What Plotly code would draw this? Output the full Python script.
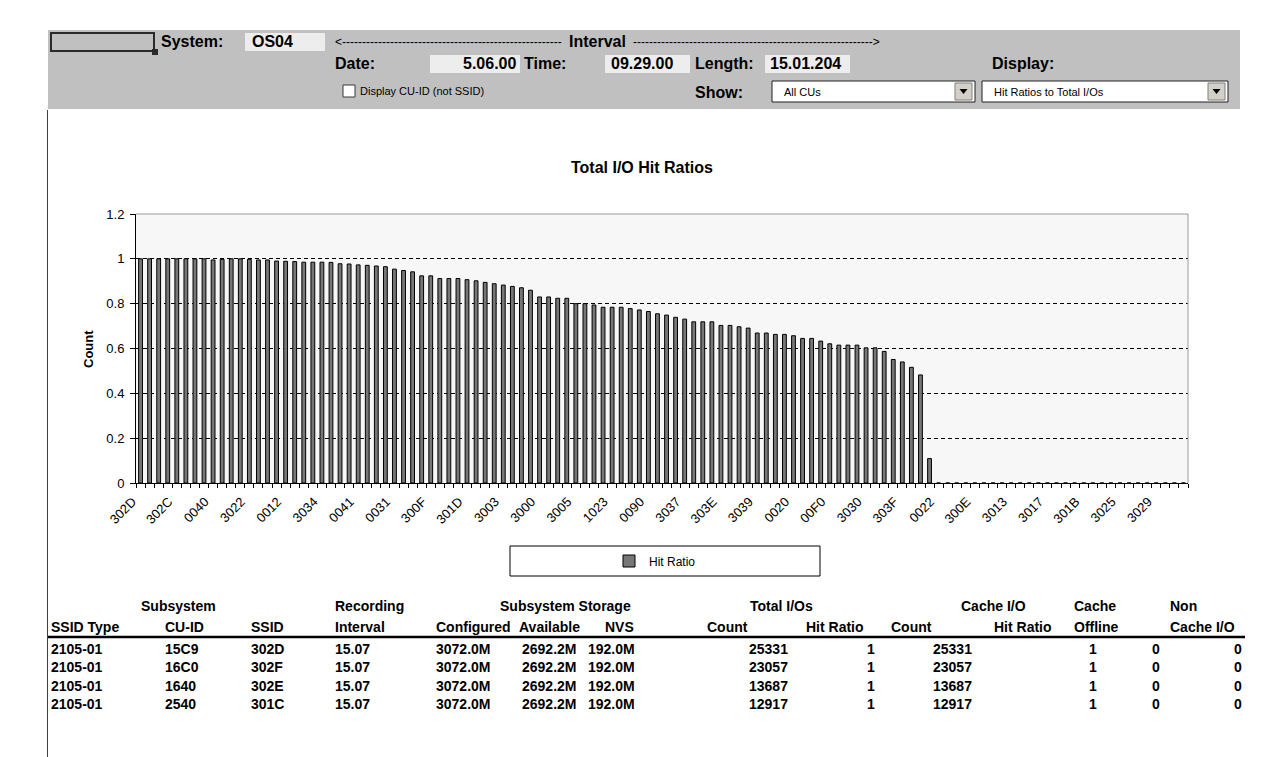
import plotly.graph_objects as go

# ---------------- data ----------------
tick_labels = ["302D", "302C", "0040", "3022", "0012", "3034", "0041", "0031", "300F",
               "301D", "3003", "3000", "3005", "1023", "0090", "3037", "303E", "3039",
               "0020", "00F0", "3030", "303F", "0022", "300E", "3013", "3017", "301B",
               "3025", "3029"]
label_every = 4

hit_ratio = [1.0, 1.0, 1.0, 1.0, 1.0, 1.0, 1.0, 1.0, 0.995, 0.998,
             1.0, 1.0, 0.998, 0.995, 0.995, 0.990, 0.989, 0.988, 0.985, 0.985,
             0.985, 0.984, 0.978, 0.977, 0.973, 0.971, 0.968, 0.965, 0.954, 0.948,
             0.942, 0.924, 0.924, 0.912, 0.912, 0.912, 0.907, 0.902, 0.895, 0.889,
             0.883, 0.877, 0.871, 0.860, 0.830, 0.830, 0.824, 0.824, 0.800, 0.800,
             0.794, 0.784, 0.784, 0.784, 0.778, 0.772, 0.765, 0.755, 0.749, 0.739,
             0.731, 0.719, 0.719, 0.719, 0.703, 0.703, 0.697, 0.691, 0.669, 0.669,
             0.663, 0.663, 0.657, 0.645, 0.645, 0.633, 0.621, 0.615, 0.615, 0.615,
             0.603, 0.603, 0.587, 0.551, 0.540, 0.516, 0.482, 0.109, 0.0, 0.0,
             0.0, 0.0, 0.0, 0.0, 0.0, 0.0, 0.0, 0.0, 0.0, 0.0,
             0.0, 0.0, 0.0, 0.0, 0.0, 0.0, 0.0, 0.0, 0.0, 0.0,
             0.0, 0.0, 0.0, 0.0, 0.0, 0.0]

y_ticks = [0, 0.2, 0.4, 0.6, 0.8, 1.0, 1.2]

# header values
system_name = "OS04"
date_value = "5.06.00"
time_value = "09.29.00"
length_value = "15.01.204"
show_value = "All CUs"
display_value = "Hit Ratios to Total I/Os"

# table values
ssid_type = ["2105-01", "2105-01", "2105-01", "2105-01"]
cu_id = ["15C9", "16C0", "1640", "2540"]
ssid = ["302D", "302F", "302E", "301C"]
rec_interval = ["15.07", "15.07", "15.07", "15.07"]
configured = ["3072.0M", "3072.0M", "3072.0M", "3072.0M"]
available = ["2692.2M", "2692.2M", "2692.2M", "2692.2M"]
nvs = ["192.0M", "192.0M", "192.0M", "192.0M"]
total_count = [25331, 23057, 13687, 12917]
total_hit = [1, 1, 1, 1]
cache_count = [25331, 23057, 13687, 12917]
cache_hit = [1, 1, 1, 1]
cache_offline = [0, 0, 0, 0]
non_cache = [0, 0, 0, 0]

# ---------------- geometry helpers ----------------
FW, FH = 1274, 757


def px(x):
    return x / FW


def py(y):
    return 1 - y / FH


SANS = "Liberation Sans, Arial, sans-serif"

fig = go.Figure()
x_idx = list(range(len(hit_ratio)))
fig.add_trace(go.Bar(
    x=x_idx, y=hit_ratio, name="Hit Ratio", width=0.42,
    marker=dict(color="#777777", line=dict(color="black", width=1)),
    hoverinfo="x+y", showlegend=True))

shapes = []
ann = []


def rect(x0, y0, x1, y1, fill, line=None, lw=1, layer="above"):
    shapes.append(dict(type="rect", xref="paper", yref="paper",
                       x0=px(x0), x1=px(x1), y0=py(y1), y1=py(y0),
                       fillcolor=fill, layer=layer,
                       line=dict(color=line if line else "rgba(0,0,0,0)", width=lw if line else 0)))


def hline(x0, x1, y, color, w=1, layer="above"):
    shapes.append(dict(type="line", xref="paper", yref="paper", x0=px(x0), x1=px(x1),
                       y0=py(y), y1=py(y), line=dict(color=color, width=w), layer=layer))


def vline(x, y0, y1, color, w=1, layer="above"):
    shapes.append(dict(type="line", xref="paper", yref="paper", x0=px(x), x1=px(x),
                       y0=py(y0), y1=py(y1), line=dict(color=color, width=w), layer=layer))


def text(x, y, s, anchor="left", size=12, bold=False, family=SANS, color="black", angle=0):
    ann.append(dict(xref="paper", yref="paper", x=px(x), y=py(y), text=f"<b>{s}</b>" if bold else s,
                    showarrow=False, xanchor=anchor, yanchor="middle", textangle=angle,
                    font=dict(family=family, size=size, color=color)))


# ---------------- header band ----------------
rect(48, 30, 1240, 109, "#c0c0c0", layer="below")
rect(51, 33, 154, 51, "#c0c0c0", line="#2a2a2a", lw=2)
rect(152, 49, 158, 55, "#2a2a2a")
text(159, 42, "System:", bold=True, size=16)
rect(245, 33, 325, 51, "#ededed")
text(250, 42, system_name, bold=True, size=16)
text(333, 42, "<" + "-" * 55, size=12)
text(597, 42, "Interval", anchor="center", bold=True, size=16)
text(882, 42, "-" * 60 + ">", anchor="right", size=12)

text(333, 64, "Date:", bold=True, size=16)
rect(430, 55, 520, 73, "#ededed")
text(518, 64, date_value, anchor="right", bold=True, size=16)
text(522, 64, "Time:", bold=True, size=16)
rect(605, 55, 690, 73, "#ededed")
text(609, 64, time_value, bold=True, size=16)
text(693, 64, "Length:", bold=True, size=16)
rect(765, 55, 850, 73, "#ededed")
text(768, 64, length_value, bold=True, size=16)
text(990, 64, "Display:", bold=True, size=16)

rect(343, 85, 355, 97, "white", line="#3a3a3a", lw=1)
text(358, 91, "Display CU-ID (not SSID)", size=11)
text(693, 93, "Show:", bold=True, size=16)


def dropdown(x0, x1, label):
    rect(x0, 81, x1, 102, "white", line="#202020", lw=1)
    rect(x1 - 20, 83, x1 - 3, 100, "#d4d0c8", line="#808080", lw=1)
    cx = x1 - 11.5
    shapes.append(dict(type="path", xref="paper", yref="paper",
                       path=f"M {px(cx - 4)} {py(89)} L {px(cx + 4)} {py(89)} L {px(cx)} {py(94)} Z",
                       fillcolor="black", line=dict(width=0), layer="above"))
    text(x0 + 10, 92, label, size=11)


dropdown(772, 975, show_value)
dropdown(982, 1228, display_value)

# ---------------- chart decorations ----------------
text(642, 167, "Total I/O Hit Ratios", anchor="center", bold=True, size=16)
text(88, 349, "Count", anchor="center", bold=True, size=13, angle=-90)
hline(136, 1188, 214, "#9a9a9a", 1)
vline(1188, 214, 483, "#9a9a9a", 1)
rect(510, 546, 820, 576, "white", line="black", lw=1, layer="below")

# ---------------- table ----------------
TS = 14
hdr1 = [("Subsystem", 178, "center"), ("Recording", 333, "left"), ("Subsystem Storage", 565, "center"),
        ("Total I/Os", 781, "center"), ("Cache I/O", 993, "center"), ("Cache", 1072, "left"),
        ("Non", 1168, "left")]
hdr2 = [("SSID Type", 49, "left"), ("CU-ID", 163, "left"), ("SSID", 249, "left"),
        ("Interval", 333, "left"), ("Configured", 434, "left"), ("Available", 517, "left"),
        ("NVS", 636, "right"), ("Count", 705, "left"), ("Hit Ratio", 866, "right"),
        ("Count", 889, "left"), ("Hit Ratio", 1054, "right"), ("Offline", 1072, "left"),
        ("Cache I/O", 1168, "left")]
for s, x, a in hdr1:
    text(x, 606, s, anchor=a, bold=True, size=TS)
for s, x, a in hdr2:
    text(x, 627, s, anchor=a, bold=True, size=TS)
hline(48, 1245, 637, "black", 2.5)

cols = [(ssid_type, 49, "left"), (cu_id, 163, "left"), (ssid, 249, "left"),
        (rec_interval, 333, "left"), (configured, 434, "left"), (available, 520, "left"),
        (nvs, 637, "right"), (total_count, 790, "right"), (total_hit, 877, "right"),
        (cache_count, 974, "right"), (cache_hit, 1099, "right"), (cache_offline, 1162, "right"),
        (non_cache, 1244, "right")]
row_y = [649, 667, 686, 704]
for vals, x, a in cols:
    for v, yy in zip(vals, row_y):
        text(x, yy, str(v), anchor=a, bold=True, size=TS)

vline(47.5, 110, 757, "#404040", 1)

fig.update_layout(
    width=FW, height=FH, margin=dict(l=0, r=0, t=0, b=0, autoexpand=False),
    paper_bgcolor="white", plot_bgcolor="#f7f7f7",
    showlegend=True,
    legend=dict(x=px(655), y=py(561), xanchor="center", yanchor="middle",
                bgcolor="rgba(0,0,0,0)", font=dict(family=SANS, size=12, color="black")),
    xaxis=dict(domain=[px(136), px(1188)], range=[-0.5, len(hit_ratio) - 0.5],
               automargin=False,
               tickmode="array",
               tickvals=[i * label_every for i in range(len(tick_labels))],
               ticktext=tick_labels, tickangle=-45, ticks="",
               ticklabelshift=-8, ticklabelstandoff=5,
               tickfont=dict(family=SANS, size=13, color="black"),
               showline=True, linecolor="black", linewidth=1, showgrid=False, zeroline=False,
               minor=dict(ticks="outside", tickmode="linear", tick0=-0.5, dtick=1,
                          ticklen=4, tickcolor="black", tickwidth=1, showgrid=False)),
    yaxis=dict(domain=[py(483), py(214)], range=[0, 1.2], tickmode="array",
               automargin=False,
               tickvals=y_ticks, ticktext=[f"{v:g}" for v in y_ticks],
               ticks="outside", ticklen=5, tickcolor="black", ticklabelstandoff=3,
               tickfont=dict(family=SANS, size=13, color="black"),
               showline=True, linecolor="black", linewidth=1,
               showgrid=True, gridcolor="black", griddash="4px,3px", gridwidth=1, zeroline=False),
    shapes=shapes, annotations=ann,
)

fig.write_html("out.html", config={"displayModeBar": False},
               post_script="document.body.style.margin='0';document.body.style.overflow='hidden';")
